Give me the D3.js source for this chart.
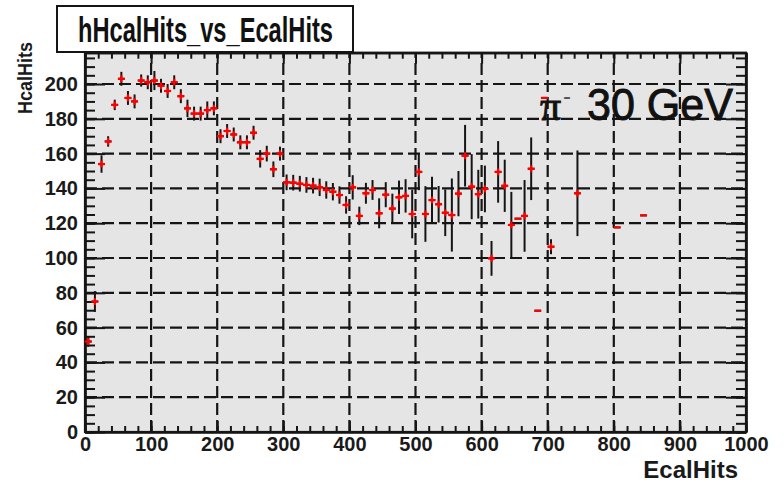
<!DOCTYPE html>
<html><head><meta charset="utf-8">
<script src="https://cdn.jsdelivr.net/npm/d3@7"></script>
<style>body{margin:0;background:#fff}</style>
</head><body><svg id="c" width="784" height="482"></svg>
<script>
// ---- data ----
const binCenters = [5,15,25,35,45,55,65,75,85,95,105,115,125,135,145,155,165,175,185,195,
  205,215,225,235,245,255,265,275,285,295,305,315,325,335,345,355,365,375,385,395,
  405,415,425,435,445,455,465,475,485,495,505,515,525,535,545,555,565,575,585,595,
  605,615,625,635,645,655,665,675,685,695,705,745,805,845];
const hcalMeans = [52,75,154,167,188,203,192,190,202,201,202,199,196,201,193,186,183,183,185,186,
  170,173,171,166.5,166.5,172,157,160,151,160,143.5,143.3,142.7,142,141.6,140.6,139.1,138.1,136.2,130.5,
  140.6,124.2,137.2,139.1,125.7,136.4,128.4,134.9,135.7,125.3,149.5,125.3,133.3,130.9,126,124.7,137,158.8,141,136.7,
  139.7,99.8,149.5,141.5,119,122.6,124.2,151.3,69.7,192,106.5,137.2,117.6,124.5];
const hcalErrors = [3,6,5,3,3,4,4,4,3.5,4,5.5,4,4,4,4,5,4,4,5,4,
  4,4,4,4,4,4,5,4.5,4.5,4,4.5,4.5,4.5,4.5,4.5,5,5,5,5,5,
  7,5.3,6,5.7,8.6,7.2,8.6,9.6,9.6,14,10.5,16,13.4,10.5,13.4,21,13,17.7,18.7,14,
  13.4,10,17.7,15,19,0,20.6,18,0,0,4.3,24.6,0,0];
const binHalfWidth = 5;
const xTicks = [0,100,200,300,400,500,600,700,800,900,1000];
const yTicks = [0,20,40,60,80,100,120,140,160,180,200];
const titleText = "hHcalHits_vs_EcalHits";
const xTitle = "EcalHits";
const yTitle = "HcalHits";

// ---- layout ----
const svg = d3.select("#c");
const X0 = 85, X1 = 746, Y0 = 432, Y1 = 52.7;
const x = d3.scaleLinear().domain([0,1000]).range([X0,X1]);
const y = d3.scaleLinear().domain([0,218]).range([Y0,Y1]);
const ink = "#151515";
const sans = "Liberation Sans, Arial, sans-serif";

svg.append("rect").attr("x",X0).attr("y",Y1).attr("width",X1-X0).attr("height",Y0-Y1).attr("fill","#e5e5e5");

// grid
const grid = svg.append("g").attr("stroke",ink).attr("stroke-width",2.2).attr("stroke-dasharray","12,5");
grid.selectAll("line.v").data(xTicks.slice(1,-1)).join("line").attr("class","v")
  .attr("x1",d=>x(d)).attr("x2",d=>x(d)).attr("y1",Y0).attr("y2",Y1);
grid.selectAll("line.h").data(yTicks.slice(1)).join("line").attr("class","h")
  .attr("x1",X0).attr("x2",X1).attr("y1",d=>y(d)).attr("y2",d=>y(d));

// axes
const minorX = d3.range(0,1001,20), minorY = d3.range(0,218,5);
const fmt = d3.format("d");
function styleAxis(g){
  g.selectAll("path.domain").attr("stroke",ink).attr("stroke-width",2.2);
  g.selectAll(".tick line").attr("stroke",ink).attr("stroke-width",2);
  g.selectAll(".tick text").attr("fill","#1a1a1a").attr("font-family",sans)
   .attr("font-weight","bold").attr("font-size",20);
}
svg.append("g").attr("transform",`translate(0,${Y0})`).call(d3.axisBottom(x).tickValues(minorX).tickSize(-6).tickSizeOuter(0).tickFormat("")).call(styleAxis);
svg.append("g").attr("transform",`translate(0,${Y0})`).call(d3.axisBottom(x).tickValues(xTicks).tickSize(-11).tickSizeOuter(0).tickPadding(5).tickFormat(fmt)).call(styleAxis);
svg.append("g").attr("transform",`translate(0,${Y1})`).call(d3.axisTop(x).tickValues(minorX).tickSize(-6).tickSizeOuter(0).tickFormat("")).call(styleAxis);
svg.append("g").attr("transform",`translate(0,${Y1})`).call(d3.axisTop(x).tickValues(xTicks).tickSize(-11).tickSizeOuter(0).tickFormat("")).call(styleAxis);
svg.append("g").attr("transform",`translate(${X0},0)`).call(d3.axisLeft(y).tickValues(minorY).tickSize(-10).tickSizeOuter(0).tickFormat("")).call(styleAxis);
svg.append("g").attr("transform",`translate(${X0},0)`).call(d3.axisLeft(y).tickValues(yTicks).tickSize(-20).tickSizeOuter(0).tickPadding(7).tickFormat(fmt)).call(styleAxis);
svg.append("g").attr("transform",`translate(${X1},0)`).call(d3.axisRight(y).tickValues(minorY).tickSize(-10).tickSizeOuter(0).tickFormat("")).call(styleAxis);
svg.append("g").attr("transform",`translate(${X1},0)`).call(d3.axisRight(y).tickValues(yTicks).tickSize(-20).tickSizeOuter(0).tickFormat("")).call(styleAxis);
svg.append("rect").attr("x",X0).attr("y",Y1).attr("width",X1-X0).attr("height",Y0-Y1).attr("fill","none").attr("stroke",ink).attr("stroke-width",2.2);

// data: error bars + red markers
const pts = binCenters.map((c,i)=>({c, m:hcalMeans[i], e:hcalErrors[i]}));
const eb = svg.append("g").attr("stroke",ink).attr("stroke-width",2);
eb.selectAll("line.ev").data(pts.filter(p=>p.e>0)).join("line").attr("class","ev")
  .attr("x1",p=>x(p.c)).attr("x2",p=>x(p.c)).attr("y1",p=>y(p.m-p.e)).attr("y2",p=>y(p.m+p.e));
eb.selectAll("line.eh").data(pts).join("line").attr("class","eh")
  .attr("x1",p=>x(p.c-binHalfWidth)).attr("x2",p=>x(p.c+binHalfWidth)).attr("y1",p=>y(p.m)).attr("y2",p=>y(p.m));
const mk = svg.append("g").attr("stroke","#ff0000").attr("stroke-width",2.2);
mk.selectAll("line.mh").data(pts).join("line").attr("class","mh")
  .attr("x1",p=>x(p.c)-3.5).attr("x2",p=>x(p.c)+3.5).attr("y1",p=>y(p.m)).attr("y2",p=>y(p.m));
mk.selectAll("line.mv").data(pts.filter(p=>p.e>0)).join("line").attr("class","mv")
  .attr("x1",p=>x(p.c)).attr("x2",p=>x(p.c)).attr("y1",p=>y(p.m)-3.5).attr("y2",p=>y(p.m)+3.5);

// title box
svg.append("rect").attr("x",57).attr("y",6).attr("width",296).attr("height",46).attr("fill","#fff").attr("stroke",ink).attr("stroke-width",2);
svg.append("text").attr("x",78).attr("y",42).attr("font-family",sans).attr("font-weight","bold")
  .attr("font-size",35).attr("textLength",255).attr("lengthAdjust","spacingAndGlyphs").attr("fill","#111").text(titleText);

// axis titles
svg.append("text").attr("x",738).attr("y",478).attr("text-anchor","end").attr("font-family",sans)
  .attr("font-weight","bold").attr("font-size",24).attr("fill","#1a1a1a").text(xTitle);
svg.append("text").attr("transform","translate(32,42) rotate(-90)").attr("text-anchor","end").attr("font-family",sans)
  .attr("font-weight","bold").attr("font-size",20).attr("textLength",72).attr("lengthAdjust","spacingAndGlyphs").attr("fill","#1a1a1a").text(yTitle);

// label
svg.append("text").attr("x",540).attr("y",120).attr("font-family","Liberation Serif, serif").attr("font-size",42)
  .attr("fill","#111").attr("stroke","#111").attr("stroke-width",0.8).text("π");
svg.append("text").attr("x",563).attr("y",104).attr("font-family",sans).attr("font-size",24).attr("fill","#555").text("-");
svg.append("text").attr("x",587).attr("y",120).attr("font-family",sans).attr("font-size",45)
  .attr("textLength",146).attr("lengthAdjust","spacingAndGlyphs").attr("fill","#111").attr("stroke","#111").attr("stroke-width",0.9).text("30 GeV");
</script></body></html>
